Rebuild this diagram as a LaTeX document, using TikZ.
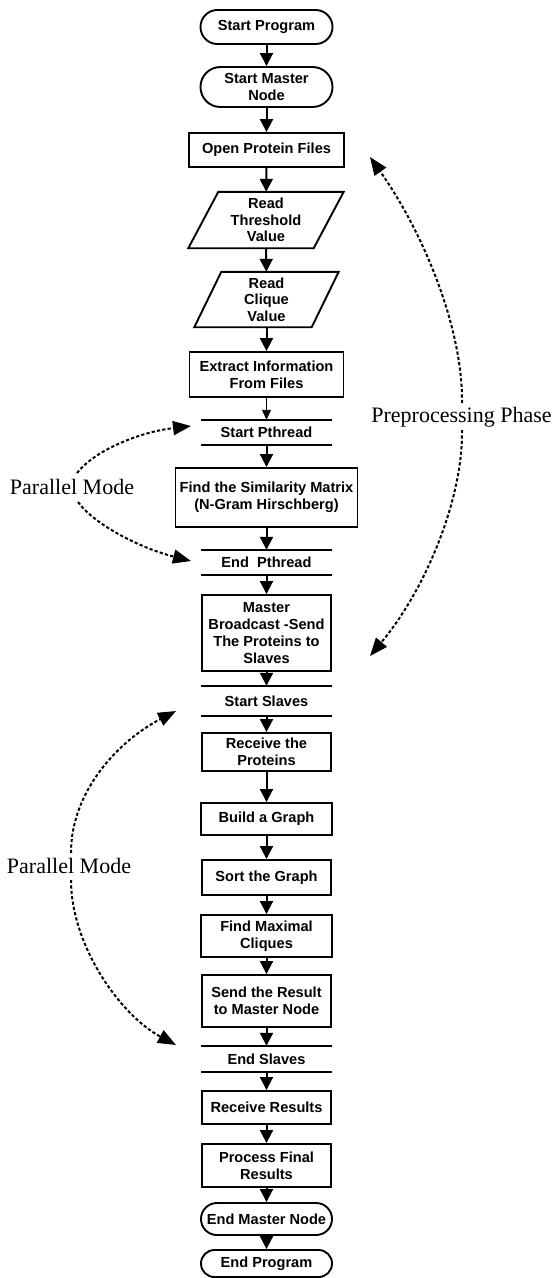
\documentclass[tikz,border=0pt]{standalone}
\usepackage{fontspec}
\setmainfont{Liberation Serif}
\setsansfont{Liberation Sans}
\usetikzlibrary{arrows.meta,calc}
\begin{document}
\begin{tikzpicture}[x=1pt,y=-1pt,
  txt/.style={inner sep=0pt, align=center,
    font=\fontsize{14.6}{16.7}\selectfont\sffamily\bfseries},
  box/.style={txt, draw, line width=1.9pt, rectangle},
  term/.style={box, rounded corners=#1},
  io/.style={txt, rectangle},
  bar/.style={txt, rectangle, minimum width=130pt},
  lbl/.style={inner sep=0pt, font=\fontsize{22}{26}\selectfont},
  edge/.style={line width=1.9pt},
  flow/.style={line width=2pt, -{Triangle[length=13pt,width=13pt]}},
  thinflow/.style={line width=0.9pt, -{Triangle[length=10pt,width=9pt]}},
  dotarc/.style={line width=2pt, dash pattern=on 3.2pt off 2.2pt,
    -{Triangle[length=18pt,width=14pt]}}]
\useasboundingbox (0,0) rectangle (553,1278);

% main column
\node[term=16.9pt, minimum width=132pt, minimum height=34pt] (sprog) at (266.5,27) {Start Program};
\node[term=19.9pt, minimum width=132pt, minimum height=40pt] (smaster) at (266.5,87) {Start Master\\Node};
\node[box, minimum width=155pt, minimum height=34pt] (open) at (266.5,150) {Open Protein Files};
\node[io, minimum width=125pt, minimum height=56pt] (thr) at (266,220) {Read\\Threshold\\Value};
\node[io, minimum width=117pt, minimum height=55pt] (clq) at (266.5,299.5) {Read\\Clique\\Value};
\node[box, minimum width=154pt, minimum height=45pt] (extract) at (266.5,374.5) {Extract Information\\From Files};
\node[bar, minimum height=25pt] (spth) at (266.5,432.5) {Start Pthread};
\node[box, minimum width=182pt, minimum height=59pt] (sim) at (266.5,497.5) {Find the Similarity Matrix\\(N-Gram Hirschberg)};
\node[bar, minimum height=25pt] (epth) at (266.5,562.5) {End~~Pthread};
\node[box, minimum width=129pt, minimum height=76pt] (bcast) at (266.5,633) {Master\\Broadcast -Send\\The Proteins to\\Slaves};
\node[bar, minimum height=30pt] (sslv) at (266.5,701) {Start Slaves};
\node[box, minimum width=129pt, minimum height=38pt] (recv) at (266.5,752) {Receive the\\Proteins};
\node[box, minimum width=131pt, minimum height=32pt] (build) at (266.5,819) {Build a Graph};
\node[box, minimum width=129pt, minimum height=35pt] (sort) at (266.5,877.5) {Sort the Graph};
\node[box, minimum width=131pt, minimum height=42pt] (maxc) at (266.5,936) {Find Maximal\\Cliques};
\node[box, minimum width=129pt, minimum height=52pt] (send) at (266.5,1001) {Send the Result\\to Master Node};
\node[bar, minimum height=26pt] (eslv) at (266.5,1059) {End Slaves};
\node[box, minimum width=129pt, minimum height=33pt] (rres) at (266.5,1107.5) {Receive Results};
\node[box, minimum width=129pt, minimum height=43pt] (proc) at (266.5,1165.5) {Process Final\\Results};
\node[term=15.9pt, minimum width=131pt, minimum height=32pt] (emaster) at (266.5,1219) {End Master Node};
\node[term=13.4pt, minimum width=131pt, minimum height=27pt] (eprog) at (266.5,1263.5) {End Program};

% input parallelograms
\draw[edge] ([xshift=15pt]thr.north west) -- ([xshift=15pt]thr.north east)
  -- ([xshift=-15pt]thr.south east) -- ([xshift=-15pt]thr.south west) -- cycle;
\draw[edge] ([xshift=13.5pt]clq.north west) -- ([xshift=13.5pt]clq.north east)
  -- ([xshift=-13.5pt]clq.south east) -- ([xshift=-13.5pt]clq.south west) -- cycle;

% fork / join bars
\foreach \b in {spth,epth,sslv,eslv}
  \draw[edge] (\b.north west) -- (\b.north east) (\b.south west) -- (\b.south east);

% flow arrows
\draw[flow] (sprog) -- (smaster);
\draw[flow] (smaster) -- (open);
\draw[flow] (open) -- (thr);
\draw[flow] (thr) -- (clq);
\draw[flow] (clq) -- (extract);
\draw[thinflow] (extract) -- (spth);
\draw[flow] (spth) -- (sim);
\draw[flow] (sim) -- (epth);
\draw[flow] (epth) -- (bcast);
\draw[flow] (bcast) -- (sslv);
\draw[flow] (sslv) -- (recv);
\draw[flow] (recv) -- (build);
\draw[flow] (build) -- (sort);
\draw[flow] (sort) -- (maxc);
\draw[flow] (maxc) -- (send);
\draw[flow] (send) -- (eslv);
\draw[flow] (eslv) -- (rres);
\draw[flow] (rres) -- (proc);
\draw[flow] (proc) -- (emaster);
\draw[flow] (emaster) -- (eprog);

% phase labels
\node[lbl] (pm1) at (72,487) {Parallel Mode};
\node[lbl] (pm2) at (69,866) {Parallel Mode};
\node[lbl] (pre) at (461.5,417) {Preprocessing Phase};

% ends of the dotted braces
\coordinate (pm1u) at (77,473);   \coordinate (pm1ut) at (191,426);
\coordinate (pm1d) at (78,502);   \coordinate (pm1dt) at (191,561);
\coordinate (pm2u) at (71,853);   \coordinate (pm2ut) at (176,711);
\coordinate (pm2d) at (71,880);   \coordinate (pm2dt) at (176,1045);
\coordinate (preu) at (462,403);  \coordinate (preut) at (370,157);
\coordinate (pred) at (462,430);  \coordinate (predt) at (370,656);

\draw[dotarc] (pm1u) .. controls (95,450) and (140,432) .. (pm1ut);
\draw[dotarc] (pm1d) .. controls (95,525) and (140,548) .. (pm1dt);
\draw[dotarc] (pm2u) .. controls (71,790) and (120,740) .. (pm2ut);
\draw[dotarc] (pm2d) .. controls (71,945) and (120,1015) .. (pm2dt);
\draw[dotarc] (preu) .. controls (463,330) and (425,235) .. (preut);
\draw[dotarc] (pred) .. controls (463,500) and (425,590) .. (predt);
\end{tikzpicture}
\end{document}
